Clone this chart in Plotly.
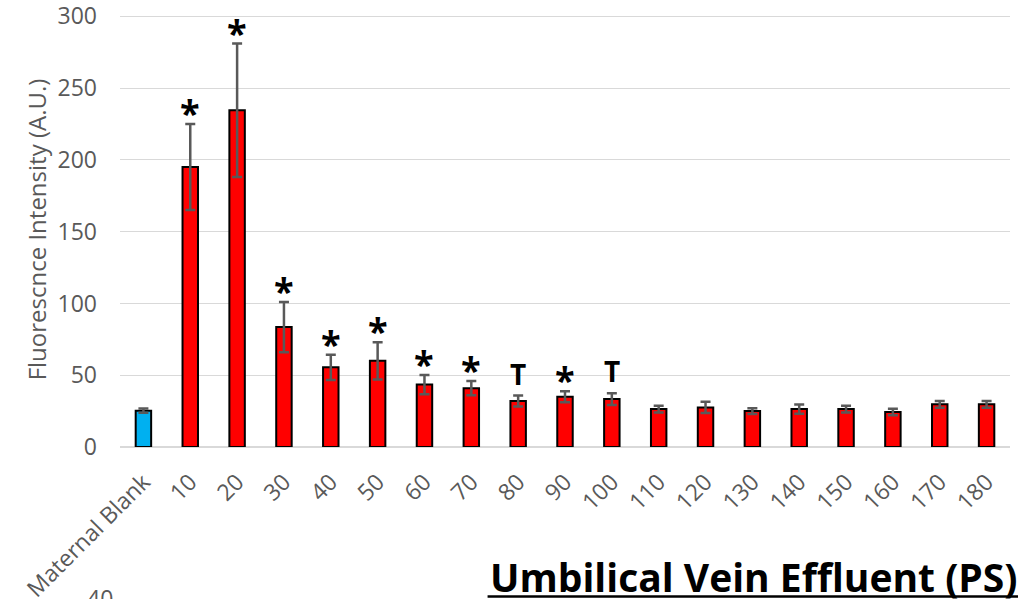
import plotly.graph_objects as go

# Fluorescence intensity per collection time point
categories = ["Maternal Blank", "10", "20", "30", "40", "50", "60", "70", "80", "90",
              "100", "110", "120", "130", "140", "150", "160", "170", "180"]
means = [25.3, 195, 234.5, 83.5, 55.5, 60, 43.5, 41, 32, 35, 33.4,
         26.4, 27.6, 25, 26.4, 26.4, 24.4, 29.7, 29.7]
errors = [1.5, 30, 46.5, 17.5, 8.8, 13, 6.7, 5, 3.8, 3.8, 4.1,
          2.3, 4, 2, 3.2, 2.3, 2.2, 2.4, 2.4]
markers = ["", "*", "*", "*", "*", "*", "*", "*", "T", "*", "T",
           "", "", "", "", "", "", "", ""]

BLUE = "#00B0F0"
RED = "#FF0000"
GRAY = "#595959"

bar_colors = [BLUE] + [RED] * (len(categories) - 1)

fig = go.Figure()
fig.add_trace(go.Bar(
    x=categories,
    y=means,
    marker=dict(color=bar_colors, line=dict(color="#000000", width=2)),
    error_y=dict(type="data", array=errors, visible=True,
                 color=GRAY, thickness=2.5, width=5),
    showlegend=False,
))

# significance markers above the error bars (x given as category index)
for i, (m, e, mk) in enumerate(zip(means, errors, markers)):
    if not mk:
        continue
    if mk == "*":
        fig.add_annotation(x=i, y=m + e, text="<b>*</b>", showarrow=False,
                           yanchor="bottom", yshift=-15,
                           font=dict(family="Open Sans", size=36, color="#000000"))
    else:
        fig.add_annotation(x=i, y=m + e, text="<b>T</b>", showarrow=False,
                           yanchor="bottom", yshift=1,
                           font=dict(family="Open Sans", size=28, color="#000000"))

# bottom caption, underlined
fig.add_annotation(xref="paper", yref="paper", x=0.413, y=-0.232,
                   xanchor="left", yanchor="top", showarrow=False,
                   text="<b>Umbilical Vein Effluent (PS)</b>",
                   font=dict(family="Open Sans", size=39, color="#000000"))
fig.add_shape(type="line", xref="paper", yref="paper",
              x0=0.413, x1=1.02, y0=-0.3437, y1=-0.3437,
              line=dict(color="#000000", width=2.5))
fig.add_annotation(xref="paper", yref="paper", x=-0.022, y=-0.305,
                   xanchor="center", yanchor="top", showarrow=False,
                   text="40", font=dict(family="Open Sans", size=23, color=GRAY))

fig.update_layout(
    width=1018, height=599,
    margin=dict(l=120, r=8, t=12, b=152),
    paper_bgcolor="#ffffff", plot_bgcolor="#ffffff",
    bargap=0.67,
    font=dict(family="Open Sans", color=GRAY),
    xaxis=dict(type="category", tickangle=-45, tickfont=dict(size=23, color=GRAY),
               showline=False, ticks="", range=[-0.5, 18.5],
               ticklabelstandoff=16, automargin=False, ticklabeloverflow="allow"),
    yaxis=dict(range=[0, 303], tickvals=[0, 50, 100, 150, 200, 250, 300],
               tickfont=dict(size=23, color=GRAY), ticklabelstandoff=22,
               ticklabeloverflow="allow",
               showgrid=True, gridcolor="#d9d9d9", gridwidth=1.3,
               zeroline=True, zerolinecolor="#d9d9d9", zerolinewidth=2,
               ticks="", ticklen=0, automargin=False,
               title=dict(text="Fluorescnce Intensity (A.U.)", standoff=4,
                          font=dict(size=24, color=GRAY))),
)

fig.write_html("out.html")
